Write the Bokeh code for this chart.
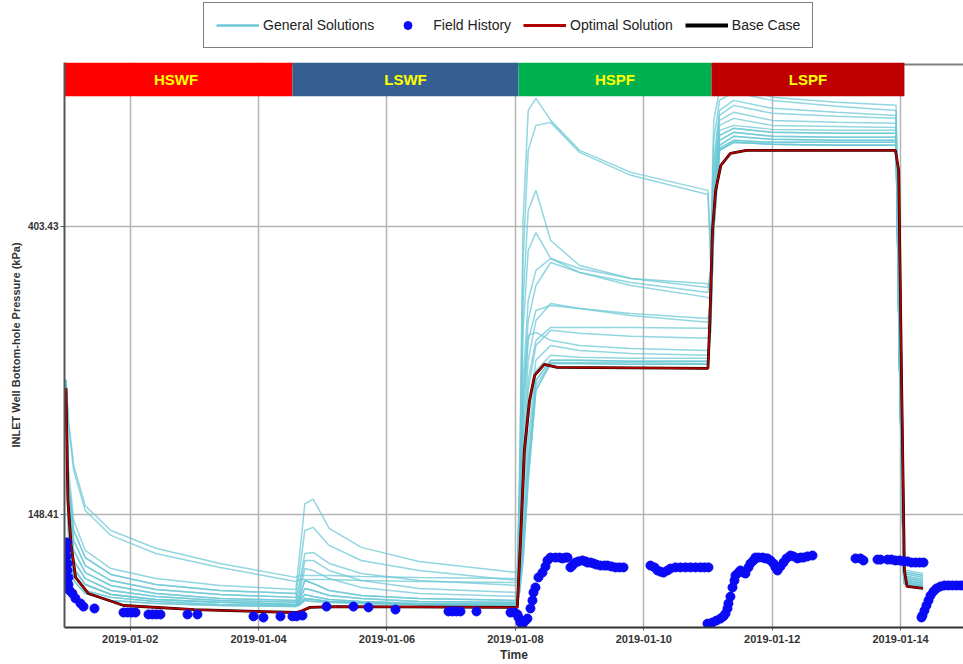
from bokeh.plotting import figure
from bokeh.layouts import column
from bokeh.models import (ColumnDataSource, Range1d, FixedTicker, PrintfTickFormatter,
                          DatetimeTickFormatter, Legend, LegendItem, Span)
from bokeh.core.properties import value
from bokeh.embed import file_html
from bokeh.resources import INLINE

DAY_MS = 86_400_000
T0_MS = 1546300800000  # 2019-01-01 00:00


def at(days):
    """Days since 2019-01-01 -> epoch milliseconds for the datetime axis."""
    return [T0_MS + d * DAY_MS for d in days]


# ---------------------------------------------------------------- stages
stage_names = ["HSWF", "LSWF", "HSPF", "LSPF"]
stage_start = [-0.10, 3.528, 7.048, 10.055]
stage_end = [3.528, 7.048, 10.055, 13.06]
stage_colors = ["#FF0000", "#365F91", "#00B050", "#C00000"]

# ---------------------------------------------------------------- general solutions (kPa)
gs_days = [0.00, 0.04, 0.12, 0.30, 0.70, 1.40, 2.40, 3.58,
           3.63, 3.72, 3.85, 4.10, 4.60, 5.50, 7.03,
           7.07, 7.12, 7.20, 7.32, 7.55, 8.00, 8.80, 10.00,
           10.04, 10.09, 10.18, 10.40, 11.00, 12.00, 12.93,
           12.98, 13.05, 13.35]

gs01 = [237, 206, 176, 153, 140.4, 132, 125.2, 119.3,
        120.1, 120.1, 120.1, 120.1, 119.7, 119.3, 118.8,
        185.3, 411.7, 603.4, 629.2, 582.8, 525.2, 486.6, 457.1,
        371, 582.8, 647.1, 658.5, 631.6, 620.6, 614,
        262, 122.4, 120.9]
gs02 = [237, 202, 173, 150.5, 138, 129.6, 123.5, 117.6,
        118.4, 118.4, 118.4, 118.4, 118, 117.6, 117.2,
        172.9, 358.4, 525.2, 572.8, 578.8, 521.5, 481.6, 450.7,
        358.4, 543.8, 624.7, 642.6, 624.7, 611.9, 603.4,
        262, 121.6, 120.1]
gs03 = [236.4, 172.9, 145.3, 131, 123, 118.8, 116, 114.4,
        126.5, 154.0, 156.5, 141.4, 132.4, 126.1, 121.3,
        167, 312, 426.3, 457.1, 384.1, 352.2, 336.7, 326.3,
        346.2, 507.3, 603.4, 624.7, 607.7, 599.4, 593,
        262, 120.8, 119.3]
gs04 = [236.4, 167, 140.4, 127.8, 120.5, 116.4, 114, 112.8,
        120.1, 140.4, 141.9, 133.3, 126.5, 122.2, 118,
        161.3, 281.2, 371, 394.9, 360.9, 343.8, 332.1, 320.7,
        334.4, 490, 593, 614, 597.3, 591, 586.9,
        262, 119.9, 118.4]
gs05 = [236.4, 161.3, 135.6, 124.3, 118, 114.4, 112.4, 111.3,
        116, 129.6, 130.1, 125.2, 120.9, 118, 116,
        145.3, 236.4, 312, 346.2, 360.9, 348.6, 336.7, 330.7,
        322.9, 473.3, 582.8, 599.4, 582.8, 578.8, 576.8,
        262, 119.1, 117.6]
gs06 = [236.4, 155.8, 131, 121.3, 116, 112.8, 110.9, 110.1,
        114, 126.5, 126.5, 122.2, 118, 114.8, 113.2,
        140.4, 220.5, 291.1, 328.6, 355.9, 343.8, 328.6, 315.3,
        312, 457.1, 572.8, 586.9, 572.8, 570.8, 568.8,
        262, 118.3, 116.8]
gs07 = [234.8, 150.5, 126.5, 118.8, 114, 111.6, 110.1, 109.4,
        112, 123, 122.2, 118.8, 115.2, 112.8, 111.6,
        135.6, 205.7, 271.6, 301.3, 306.6, 303.4, 298.2, 293.1,
        312, 457.1, 563, 572.8, 564.9, 563, 563,
        262, 117.5, 116]
gs08 = [232.3, 145.3, 123, 116.4, 112.4, 110.5, 109.4, 108.6,
        110.9, 118, 116.8, 114, 112, 110.9, 110.1,
        133.3, 191.9, 253.4, 291.1, 308.7, 303.4, 296.1, 289.1,
        301.3, 441.2, 553.3, 566.9, 559.1, 557.2, 557.2,
        262, 116.7, 115.2]
gs09 = [232.3, 140.4, 120.1, 114, 111.3, 109.7, 108.6, 108.2,
        110.1, 114.8, 114, 112, 110.9, 109.7, 109.4,
        131, 179, 236.4, 271.6, 284.1, 284.1, 284.1, 283.2,
        301.3, 441.2, 543.8, 559.1, 551.4, 549.5, 549.5,
        262, 117.5, 116]
gs10 = [229.9, 135.6, 118, 112.8, 110.1, 109, 108.2, 107.8,
        109.4, 112.4, 111.6, 110.5, 109.7, 109, 109,
        128.7, 172.9, 228.3, 266.9, 281.2, 278.3, 275.4, 273.5,
        291.1, 426.3, 534.4, 551.4, 545.7, 543.8, 543.8,
        262, 118.3, 116.8]
gs11 = [236.4, 161.3, 135.6, 124.3, 118, 114.4, 112.4, 111.3,
        108.6, 110.9, 110.5, 109.7, 109.4, 108.6, 108.6,
        135.6, 220.5, 276.3, 279.2, 271.6, 266.9, 264.1, 262.3,
        291.1, 411.7, 528.9, 543.8, 540.1, 540.1, 540.1,
        262, 119.1, 117.6]
gs12 = [236.4, 155.8, 131, 121.3, 116, 112.8, 110.9, 110.1,
        108.2, 110.1, 109.7, 109.4, 109, 108.6, 108.2,
        124.3, 155.8, 205.7, 253.4, 266.9, 262.3, 259.6, 257.9,
        281.2, 397.6, 525.2, 540.1, 536.4, 534.4, 534.4,
        262, 119.9, 118.4]
gs13 = [234.8, 150.5, 126.5, 118.8, 114, 111.6, 110.1, 109.4,
        110.1, 114.8, 114, 112, 110.9, 109.7, 109.4,
        120.1, 145.3, 191.9, 244.7, 257.9, 256.1, 255.2, 255.2,
        291.1, 411.7, 528.9, 543.8, 540.1, 540.1, 540.1,
        262, 120.8, 119.3]
gs14 = [232.3, 145.3, 123, 116.4, 112.4, 110.5, 109.4, 108.6,
        109.4, 112.4, 111.6, 110.5, 109.7, 109, 109,
        118, 135.6, 179, 236.4, 253.4, 253.4, 252.5, 252.5,
        291.1, 426.3, 534.4, 551.4, 545.7, 543.8, 543.8,
        262, 121.6, 120.1]
gs15 = [232.3, 140.4, 120.1, 114, 111.3, 109.7, 108.6, 108.2,
        108.6, 110.9, 110.5, 109.7, 109.4, 108.6, 108.6,
        116, 131, 172.9, 232.3, 251.6, 251.6, 251.6, 250.7,
        281.2, 397.6, 525.2, 540.1, 536.4, 534.4, 534.4,
        262, 116.7, 115.2]
gs16 = [229.9, 135.6, 118, 112.8, 110.1, 109, 108.2, 107.8,
        108.2, 110.1, 109.7, 109.4, 109, 108.6, 108.2,
        114, 126.5, 167, 228.3, 250.7, 250.7, 249.9, 249.9,
        301.3, 441.2, 543.8, 559.1, 551.4, 549.5, 549.5,
        262, 117.5, 116]
gs17 = [236.4, 167, 140.4, 127.8, 120.5, 116.4, 114, 112.8,
        110.9, 118, 116.8, 114, 112, 110.9, 110.1,
        118, 135.6, 179, 236.4, 253.4, 253.4, 252.5, 252.5,
        301.3, 441.2, 553.3, 566.9, 559.1, 557.2, 557.2,
        262, 118.3, 116.8]
gs18 = [232.3, 145.3, 123, 116.4, 112.4, 110.5, 109.4, 108.6,
        108.6, 110.9, 110.5, 109.7, 109.4, 108.6, 108.6,
        114, 126.5, 167, 228.3, 250.7, 250.7, 249.9, 249.9,
        281.2, 397.6, 525.2, 540.1, 536.4, 534.4, 534.4,
        262, 117.1, 115.6]

general_solutions = [gs01, gs02, gs03, gs04, gs05, gs06, gs07, gs08, gs09,
                     gs10, gs11, gs12, gs13, gs14, gs15, gs16, gs17, gs18]

# ---------------------------------------------------------------- optimal solution / base case (kPa)
opt_days = [0.00, 0.03, 0.08, 0.15, 0.35, 0.90, 2.00, 3.58, 3.65, 3.80, 4.20,
            7.03, 7.08, 7.14, 7.22, 7.30, 7.45, 7.65, 10.00,
            10.03, 10.07, 10.12, 10.20, 10.35, 10.60, 12.92,
            12.97, 13.02, 13.06, 13.10, 13.35]
optimal = [230, 155.8, 133.3, 119.3, 112.8, 108.2, 106.7, 105.6, 106, 107.5, 107.8,
           107.5, 135.6, 185.3, 220.5, 240.5, 249.9, 247.3, 246.5,
           291.1, 397.6, 457.1, 498.6, 519.8, 525.2, 525.2,
           490, 220.5, 122.2, 115.6, 114.8]
base_case = [230, 155.8, 133.3, 119.3, 112.8, 108.2, 106.7, 105.6, 106, 107.5, 107.8,
             107.5, 135.6, 185.3, 220.5, 240.5, 249.9, 247.3, 246.5,
             291.1, 397.6, 457.1, 498.6, 519.8, 525.2, 525.2,
             490, 220.5, 122.2, 115.6, 114.8]

# ---------------------------------------------------------------- field history (kPa)
fh_days = [0.008, 0.008, 0.008, 0.023, 0.023, 0.039, 0.039, 0.055, 0.101, 0.148, 0.226, 0.273, 0.444,
           0.896, 0.958, 1.020, 1.083, 1.285, 1.347, 1.410, 1.472, 1.893, 2.048,
           2.921, 3.076, 3.341, 3.528, 3.590, 3.684,
           4.058, 4.478, 4.712, 5.132, 5.958, 6.020, 6.083, 6.145, 6.394, 6.924, 6.986, 7.033,
           7.048, 7.079, 7.111, 7.157, 7.188, 7.235, 7.266, 7.282, 7.313, 7.360, 7.422, 7.469,
           7.500, 7.547, 7.625, 7.687, 7.734, 7.780, 7.812, 7.858, 7.889, 7.936, 7.983, 8.045,
           8.092, 8.123, 8.170, 8.217, 8.263, 8.326, 8.388, 8.435, 8.497, 8.559, 8.621, 8.684,
           9.104, 9.167, 9.213, 9.260, 9.307, 9.369, 9.416, 9.494, 9.572, 9.650, 9.727, 9.805,
           9.883, 9.946, 10.008,
           9.992, 10.039, 10.070, 10.132, 10.195, 10.241, 10.273, 10.304, 10.319, 10.350,
           10.382, 10.413, 10.428, 10.475, 10.506, 10.553, 10.584, 10.631, 10.662, 10.709,
           10.740, 10.787, 10.849, 10.896, 10.927, 10.974, 11.020, 11.051, 11.083, 11.129,
           11.176, 11.223, 11.285, 11.332, 11.394, 11.441, 11.488, 11.550, 11.628,
           12.298, 12.375, 12.422, 12.640, 12.687, 12.796, 12.858, 12.921, 12.983, 13.045,
           13.107, 13.170, 13.232, 13.294, 13.357,
           13.326, 13.341, 13.372, 13.403, 13.435, 13.466, 13.512, 13.559, 13.621, 13.684,
           13.746, 13.808, 13.871, 13.933, 13.980]
fh_kpa = [134.7, 131.4, 128.3, 125.2, 122.2, 119.3, 116.4, 114.0, 112.8, 110.9, 109.0, 107.8, 107.1,
          105.6, 105.6, 105.6, 105.6, 104.9, 104.9, 104.9, 104.9, 104.9, 104.9,
          104.2, 103.8, 104.2, 104.2, 104.2, 104.5,
          107.8, 107.8, 107.5, 106.7, 106.0, 106.0, 106.0, 106.0, 106.0, 105.6, 105.6, 104.9,
          103.8, 102.0, 101.3, 102.7, 103.4, 107.1, 110.1, 113.2, 115.2, 119.3, 121.3, 123.9,
          126.5, 127.8, 127.8, 127.8, 127.4, 127.8, 127.8, 123.5, 124.3, 125.6, 126.1, 126.5,
          126.1, 125.6, 125.6, 125.2, 124.7, 124.3, 124.3, 124.3, 123.9, 123.5, 123.5, 123.5,
          124.3, 123.5, 122.2, 121.7, 121.3, 122.2, 123.0, 123.5, 123.5, 123.5, 123.5, 123.5,
          123.5, 123.5, 123.5,
          101.6, 101.6, 102.0, 102.7, 103.4, 104.2, 105.2, 107.1, 109.0, 111.6,
          115.2, 118.0, 120.1, 121.3, 122.2, 121.3, 120.9, 123.5, 125.2, 126.5,
          127.8, 127.8, 127.8, 127.4, 127.4, 126.5, 125.2, 123.5, 122.2, 123.9,
          125.6, 127.4, 128.7, 128.3, 127.4, 127.8, 127.8, 128.3, 128.7,
          127.4, 127.4, 126.5, 126.9, 126.9, 126.9, 126.9, 126.5, 126.5, 126.1,
          126.1, 125.6, 125.6, 125.6, 125.6,
          103.8, 104.5, 106.3, 108.2, 110.1, 112.0, 113.6, 114.8, 115.6, 116.0,
          116.0, 116.0, 116.0, 116.0, 116.0]

# ---------------------------------------------------------------- axes ticks
x_tick_days = [1, 3, 5, 7, 9, 11, 13]
y_ticks = [148.41, 403.43]

FONT = "Liberation Sans"
CYAN = "#6cc8d6"
FH_BLUE = "#0A0AF5"
OPT_RED = "#B00000"

p = figure(width=963, height=602, x_axis_type="datetime", y_axis_type="log",
           x_range=Range1d(*at([-0.023, 13.98])), y_range=Range1d(100.25, 712.5),
           output_backend="svg", toolbar_location=None,
           min_border_left=64, min_border_right=0, min_border_top=0, min_border_bottom=37,
           background_fill_color="white", border_fill_color="white")
p.outline_line_color = None

# frame top edge
p.add_layout(Span(location=707.5, dimension="width", line_color="#808080",
                  line_width=2, level="underlay"))

# grids
p.xgrid.ticker = FixedTicker(ticks=at(x_tick_days))
p.xgrid.grid_line_color = "#b4b4b4"
p.xgrid.grid_line_width = 1.5
p.ygrid.grid_line_color = "#b4b4b4"
p.ygrid.grid_line_width = 1.5

# x axis
p.xaxis.ticker = FixedTicker(ticks=at(x_tick_days))
fmt = "%Y-%m-%d"
p.xaxis.formatter = DatetimeTickFormatter(days=fmt, months=fmt, hours=fmt, years=fmt)
p.xaxis.axis_label = "Time"
p.xaxis.axis_label_text_font = FONT
p.xaxis.axis_label_text_font_style = "bold"
p.xaxis.axis_label_text_font_size = "12px"
p.xaxis.axis_label_text_color = "#333333"
p.xaxis.axis_label_standoff = 2
p.xaxis.major_label_text_font = FONT
p.xaxis.major_label_text_font_style = "bold"
p.xaxis.major_label_text_font_size = "11px"
p.xaxis.major_label_text_color = "#333333"
p.xaxis.major_label_standoff = 4
p.xaxis.axis_line_color = "#333333"
p.xaxis.axis_line_width = 2
p.xaxis.major_tick_line_color = "#555555"
p.xaxis.major_tick_out = 3
p.xaxis.major_tick_in = 0
p.xaxis.minor_tick_line_color = None

# y axis
p.yaxis.ticker = FixedTicker(ticks=y_ticks)
p.yaxis.formatter = PrintfTickFormatter(format="%.2f")
p.yaxis.axis_label = "INLET Well Bottom-hole Pressure (kPa)"
p.yaxis.axis_label_text_font = FONT
p.yaxis.axis_label_text_font_style = "bold"
p.yaxis.axis_label_text_font_size = "11px"
p.yaxis.axis_label_text_color = "#333333"
p.yaxis.axis_label_standoff = 3
p.yaxis.major_label_text_font = FONT
p.yaxis.major_label_text_font_style = "bold"
p.yaxis.major_label_text_font_size = "10px"
p.yaxis.major_label_text_color = "#333333"
p.yaxis.major_label_standoff = 2
p.yaxis.axis_line_color = "#555555"
p.yaxis.axis_line_width = 2
p.yaxis.major_tick_line_color = "#555555"
p.yaxis.major_tick_out = 4
p.yaxis.major_tick_in = 0
p.yaxis.minor_tick_line_color = None

# general solutions
gs_src = ColumnDataSource(dict(xs=[at(gs_days)] * len(general_solutions), ys=general_solutions))
p.multi_line("xs", "ys", source=gs_src, line_color=CYAN, line_alpha=0.75, line_width=1.5)

# base case under the optimal solution
p.line(at(opt_days), base_case, line_color="#1a0000", line_width=2.8)
p.line(at(opt_days), optimal, line_color=OPT_RED, line_width=1.8)

# field history
p.scatter(at(fh_days), fh_kpa, size=9, fill_color=FH_BLUE, line_color=FH_BLUE)

# stage header bands
band_src = ColumnDataSource(dict(
    left=at(stage_start), right=at(stage_end),
    mid=at([(a + b) / 2 for a, b in zip(stage_start, stage_end)]),
    color=stage_colors, name=stage_names))
p.quad(left="left", right="right", bottom=633.5, top=712.5, source=band_src,
       fill_color="color", line_color=None)
p.text(x="mid", y=671.8, text="name", source=band_src, text_color="#FFFF00",
       text_font=value(FONT), text_font_style="bold", text_font_size="15px",
       text_align="center", text_baseline="middle")

# ---------------------------------------------------------------- legend strip above the chart
lg = figure(width=963, height=62, x_range=Range1d(0, 1), y_range=Range1d(0, 1),
            output_backend="svg", toolbar_location=None,
            min_border_left=0, min_border_right=0, min_border_top=0, min_border_bottom=0,
            background_fill_color="white", border_fill_color="white")
lg.axis.visible = False
lg.grid.visible = False
lg.outline_line_color = None
# key glyphs only: their single point lies outside the strip's visible range
key_gs = lg.line([-5, -4], [-5, -5], line_color=CYAN, line_width=2.5)
key_fh = lg.scatter([-5], [-5], size=13, fill_color=FH_BLUE, line_color=FH_BLUE)
key_opt = lg.line([-5, -4], [-5, -5], line_color=OPT_RED, line_width=3)
key_base = lg.line([-5, -4], [-5, -5], line_color="black", line_width=4)

legend = Legend(items=[LegendItem(label="General Solutions", renderers=[key_gs]),
                       LegendItem(label="Field History", renderers=[key_fh]),
                       LegendItem(label="Optimal Solution", renderers=[key_opt]),
                       LegendItem(label="Base Case", renderers=[key_base])],
                orientation="horizontal", location=(139, 14),
                label_text_font=FONT, label_text_font_size="14px", label_text_color="#222222",
                glyph_width=43, glyph_height=20, label_standoff=4, spacing=12, padding=12,
                margin=0, border_line_color="black", border_line_width=1,
                background_fill_color="white", background_fill_alpha=1.0)
lg.add_layout(legend, "center")

page = column(lg, p, spacing=0)
open("out.html", "w").write(file_html(page, INLINE))
